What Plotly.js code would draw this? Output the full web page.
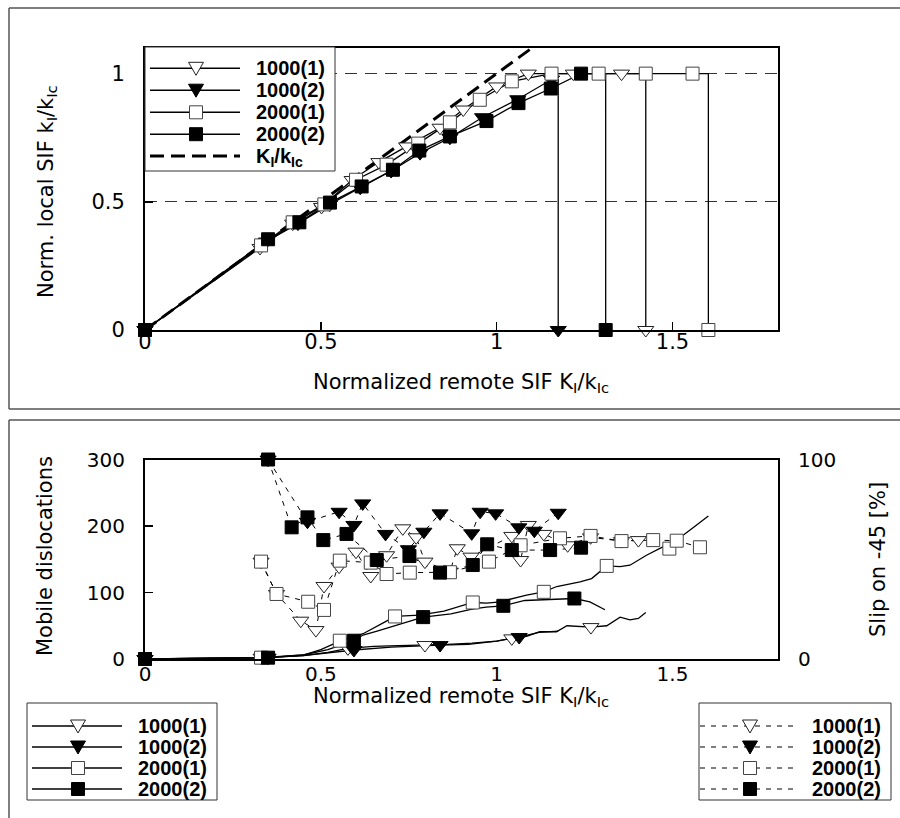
<!DOCTYPE html>
<html>
<head>
<meta charset="utf-8">
<script src="https://cdn.plot.ly/plotly-3.0.1.min.js"></script>
<style>html,body{margin:0;padding:0;background:#fff;}</style>
</head>
<body>
<div id="chart" style="width:900px;height:818px;"></div>
<script>
// ---------------- DATA ----------------
const seriesNames = ['1000(1)', '1000(2)', '2000(1)', '2000(2)'];
const kLabel = 'K<sub>I</sub>/k<sub>Ic</sub>';

// Top panel: normalized local SIF vs normalized remote SIF (last point = drop to zero)
const top1000_1_x = [0, 0.327, 0.42, 0.502, 0.589, 0.665, 0.744, 0.839, 0.905, 1.0, 1.09, 1.218, 1.355, 1.424];
const top1000_1_y = [0, 0.32, 0.415, 0.48, 0.585, 0.655, 0.716, 0.789, 0.86, 0.95, 1.0, 1.0, 1.0, 0];
const top1000_2_x = [0, 0.345, 0.435, 0.525, 0.612, 0.70, 0.782, 0.867, 0.96, 1.06, 1.156, 1.175];
const top1000_2_y = [0, 0.345, 0.415, 0.49, 0.555, 0.62, 0.69, 0.75, 0.83, 0.90, 0.977, 0];
const top2000_1_x = [0, 0.33, 0.42, 0.51, 0.60, 0.687, 0.777, 0.867, 0.952, 1.043, 1.156, 1.29, 1.424, 1.557, 1.602];
const top2000_1_y = [0, 0.33, 0.42, 0.49, 0.586, 0.645, 0.727, 0.81, 0.898, 0.97, 1.0, 1.0, 1.0, 1.0, 0];
const top2000_2_x = [0, 0.35, 0.439, 0.526, 0.616, 0.705, 0.78, 0.867, 0.971, 1.062, 1.154, 1.24, 1.31];
const top2000_2_y = [0, 0.354, 0.42, 0.497, 0.56, 0.625, 0.70, 0.755, 0.815, 0.885, 0.942, 1.0, 0];
const kRef_x = [0, 1.2];
const kRef_y = [0, 1.2];

// Bottom panel: mobile dislocations (solid, left axis) - curve points and marker points
const dis1000_1_x = [0, 0.33, 0.45, 0.52, 0.577, 0.65, 0.72, 0.796, 0.86, 0.93, 1.0, 1.043, 1.085, 1.123, 1.17, 1.2, 1.268, 1.313, 1.351, 1.379, 1.403, 1.424];
const dis1000_1_y = [0, 2, 5, 10, 16, 19, 20, 21, 22, 24, 27, 31, 34, 41, 41, 50, 48, 50, 63, 59, 61, 70];
const dis1000_1_mx = [0, 0.33, 0.577, 0.796, 1.043, 1.268];
const dis1000_1_my = [0, 2, 16, 21, 31, 48];
const dis1000_2_x = [0, 0.35, 0.45, 0.52, 0.594, 0.7, 0.78, 0.839, 0.92, 1.0, 1.064, 1.12, 1.175];
const dis1000_2_y = [0, 2, 5, 9, 13.5, 18, 20, 21, 22, 27, 33, 40, 42];
const dis1000_2_mx = [0, 0.35, 0.594, 0.839, 1.064];
const dis1000_2_my = [0, 2, 13.5, 21, 33];
const dis2000_1_x = [0, 0.33, 0.45, 0.5, 0.554, 0.62, 0.68, 0.711, 0.78, 0.85, 0.932, 0.972, 1.009, 1.085, 1.134, 1.171, 1.237, 1.27, 1.313, 1.351, 1.379, 1.426, 1.474, 1.512, 1.55, 1.602];
const dis2000_1_y = [0, 2, 6, 14, 27, 38, 55, 64, 66, 72, 85, 84, 86, 96, 101, 109, 116, 121, 140, 139, 141, 156, 169, 179, 194, 215];
const dis2000_1_mx = [0, 0.33, 0.554, 0.711, 0.932, 1.134, 1.313, 1.491];
const dis2000_1_my = [0, 2, 27.5, 64, 85, 101, 140, 166];
const dis2000_2_x = [0, 0.35, 0.45, 0.52, 0.594, 0.62, 0.66, 0.72, 0.791, 0.87, 0.93, 0.97, 1.019, 1.08, 1.15, 1.221, 1.265, 1.308];
const dis2000_2_y = [0, 2, 6, 14, 27.5, 36, 42, 52, 63, 68, 75, 78, 80, 88, 90, 91, 86, 74];
const dis2000_2_mx = [0, 0.35, 0.594, 0.791, 1.019, 1.221];
const dis2000_2_my = [0, 2, 27.5, 63, 80, 91];

// Bottom panel: slip on -45 [%] (dashed, right axis)
const slip1000_1_x = [0.33, 0.374, 0.443, 0.486, 0.509, 0.552, 0.6, 0.642, 0.687, 0.733, 0.771, 0.796, 0.867, 0.888, 0.927, 1.043, 1.068, 1.09, 1.134, 1.202, 1.267, 1.355, 1.403];
const slip1000_1_y = [48.8, 32.6, 19.2, 14.5, 36.6, 46.3, 53.8, 41.6, 52, 65.5, 61, 48.8, 43.8, 55.5, 51.3, 61.7, 49.6, 67.2, 62.7, 57, 61, 59.1, 59.6];
const slip1000_2_x = [0.35, 0.462, 0.552, 0.594, 0.619, 0.684, 0.749, 0.793, 0.839, 0.929, 0.953, 0.997, 1.063, 1.107, 1.175];
const slip1000_2_y = [100, 68.8, 73.8, 67.2, 78, 62.7, 55, 63.8, 73, 63, 73.8, 73, 66, 64.3, 73.3];
const slip2000_1_x = [0.33, 0.374, 0.464, 0.509, 0.554, 0.642, 0.687, 0.753, 0.867, 0.978, 1.068, 1.18, 1.267, 1.355, 1.445, 1.512, 1.578];
const slip2000_1_y = [48.8, 32.6, 28.7, 24.6, 49.3, 48.3, 42.6, 43.3, 43.5, 48.8, 57, 60.5, 61.7, 59.1, 59.6, 59.3, 56];
const slip2000_2_x = [0.35, 0.417, 0.462, 0.507, 0.573, 0.659, 0.752, 0.839, 0.932, 0.973, 1.043, 1.152, 1.24];
const slip2000_2_y = [100, 66, 71, 59.6, 62.7, 49.6, 51.6, 43.3, 47.1, 57.5, 54.6, 54.6, 55.8];

const xTickVals = [0, 0.5, 1, 1.5];
const xTickText = ['0', '0.5', '1', '1.5'];

// ---------------- STYLES ----------------
const REG = 'DejaVu Sans, Arial, sans-serif';
const BOLD = 'Liberation Sans, Arial, sans-serif';
const mk = {
  '1000(1)': {symbol: 'triangle-down', size: 14, color: '#fff', line: {color: '#222', width: 1}},
  '1000(2)': {symbol: 'triangle-down', size: 14, color: '#000', line: {color: '#000', width: 1}},
  '2000(1)': {symbol: 'square', size: 13, color: '#fff', line: {color: '#444', width: 1}},
  '2000(2)': {symbol: 'square', size: 13, color: '#000', line: {color: '#000', width: 1}}
};

function withDrop(xs, ys) {
  const n = xs.length;
  return [xs.slice(0, n - 1).concat([xs[n - 1], xs[n - 1]]),
          ys.slice(0, n - 1).concat([ys[n - 2], ys[n - 1]])];
}

const traces = [];
const topSets = [[top1000_1_x, top1000_1_y], [top1000_2_x, top1000_2_y], [top2000_1_x, top2000_1_y], [top2000_2_x, top2000_2_y]];
topSets.forEach((s, i) => {
  const [lx, ly] = withDrop(s[0], s[1]);
  traces.push({type: 'scatter', mode: 'lines', x: lx, y: ly, xaxis: 'x', yaxis: 'y',
    line: {color: '#000', width: 1.3}, cliponaxis: false, name: seriesNames[i]});
});
traces.push({type: 'scatter', mode: 'lines', x: kRef_x, y: kRef_y, xaxis: 'x', yaxis: 'y',
  line: {color: '#000', width: 3, dash: '14px,7px'}, cliponaxis: true, name: 'K'});
topSets.forEach((s, i) => {
  traces.push({type: 'scatter', mode: 'markers', x: s[0], y: s[1], xaxis: 'x', yaxis: 'y',
    marker: mk[seriesNames[i]], cliponaxis: false, name: seriesNames[i]});
});

const disSets = [[dis1000_1_x, dis1000_1_y, dis1000_1_mx, dis1000_1_my], [dis1000_2_x, dis1000_2_y, dis1000_2_mx, dis1000_2_my],
                 [dis2000_1_x, dis2000_1_y, dis2000_1_mx, dis2000_1_my], [dis2000_2_x, dis2000_2_y, dis2000_2_mx, dis2000_2_my]];
const slipSets = [[slip1000_1_x, slip1000_1_y], [slip1000_2_x, slip1000_2_y], [slip2000_1_x, slip2000_1_y], [slip2000_2_x, slip2000_2_y]];
slipSets.forEach((s, i) => {
  traces.push({type: 'scatter', mode: 'lines', x: s[0], y: s[1], xaxis: 'x2', yaxis: 'y3',
    line: {color: '#000', width: 1, dash: '5px,6px'}, cliponaxis: false, name: seriesNames[i]});
});
disSets.forEach((s, i) => {
  traces.push({type: 'scatter', mode: 'lines', x: s[0], y: s[1], xaxis: 'x2', yaxis: 'y2',
    line: {color: '#000', width: 1.3}, cliponaxis: false, name: seriesNames[i]});
});
slipSets.forEach((s, i) => {
  traces.push({type: 'scatter', mode: 'markers', x: s[0], y: s[1], xaxis: 'x2', yaxis: 'y3',
    marker: mk[seriesNames[i]], cliponaxis: false, name: seriesNames[i]});
});
disSets.forEach((s, i) => {
  traces.push({type: 'scatter', mode: 'markers', x: s[2], y: s[3], xaxis: 'x2', yaxis: 'y2',
    marker: mk[seriesNames[i]], cliponaxis: false, name: seriesNames[i]});
});

// ---------------- LAYOUT HELPERS (pixel -> paper) ----------------
const W = 900, H = 818;
const px = v => v / W;
const py = v => 1 - v / H;
const shapes = [];
const annotations = [];

function rectShape(x0, y0, x1, y1, fill, lc, lw) {
  shapes.push({type: 'rect', xref: 'paper', yref: 'paper', x0: px(x0), x1: px(x1), y0: py(y1), y1: py(y0),
    fillcolor: fill, line: {color: lc, width: lw}, layer: 'above'});
}
function lineShape(x0, y0, x1, y1, lc, lw, dash, layer) {
  shapes.push({type: 'line', xref: 'paper', yref: 'paper', x0: px(x0), x1: px(x1), y0: py(y0), y1: py(y1),
    line: {color: lc, width: lw, dash: dash || 'solid'}, layer: layer || 'above'});
}
function markerShape(name, cx, cy) {
  const m = mk[name];
  if (m.symbol === 'square') {
    rectShape(cx - 6.5, cy - 6.5, cx + 6.5, cy + 6.5, m.color, m.line.color, 1);
  } else {
    const p = 'M' + px(cx - 7.5) + ',' + py(cy - 6) + ' L' + px(cx + 7.5) + ',' + py(cy - 6) + ' L' + px(cx) + ',' + py(cy + 7) + ' Z';
    shapes.push({type: 'path', xref: 'paper', yref: 'paper', path: p, fillcolor: m.color,
      line: {color: m.line.color, width: 1}, layer: 'above'});
  }
}
function textAnn(text, x, y, opts) {
  annotations.push(Object.assign({text: text, xref: 'paper', yref: 'paper', x: px(x), y: py(y),
    showarrow: false, xanchor: 'left', yanchor: 'middle', borderpad: 0,
    font: {family: BOLD, size: 20, color: '#000'}}, opts || {}));
}

// outer frames (open on the right / bottom, as in the reference)
lineShape(9, 8, 900, 8, '#555', 1.5, 'solid', 'below');
lineShape(9, 8, 9, 409, '#555', 1.5, 'solid', 'below');
lineShape(9, 409, 900, 409, '#555', 1.5, 'solid', 'below');
lineShape(9, 420, 900, 420, '#555', 1.5, 'solid', 'below');
lineShape(9, 420, 9, 818, '#555', 1.5, 'solid', 'below');

// top legend
rectShape(145, 47, 335, 171, '#fff', '#333', 1);
const topRows = [68.3, 90.2, 112.3, 134.2, 156];
seriesNames.forEach((n, i) => {
  lineShape(150, topRows[i], 240, topRows[i], '#000', 1.5);
  markerShape(n, 196, topRows[i]);
  textAnn('<b>' + n + '</b>', 255, topRows[i]);
});
lineShape(150, topRows[4], 240, topRows[4], '#000', 3, '14px,7px');
textAnn('<b>' + kLabel + '</b>', 255, topRows[4] + 1.5);

// bottom legends
const botRows = [726, 747, 768, 789];
rectShape(27, 703, 217, 800, '#fff', '#333', 1);
rectShape(699, 703, 891, 800, '#fff', '#333', 1);
seriesNames.forEach((n, i) => {
  lineShape(32, botRows[i], 122, botRows[i], '#000', 1.5);
  markerShape(n, 78, botRows[i]);
  textAnn('<b>' + n + '</b>', 137, botRows[i]);
  lineShape(700, botRows[i], 793, botRows[i], '#000', 1, '5px,6px');
  markerShape(n, 750, botRows[i]);
  textAnn('<b>' + n + '</b>', 811, botRows[i]);
});

// axis titles
const titleFont = {family: REG, size: 21, color: '#000'};
textAnn('Normalized remote SIF K<sub>I</sub>/k<sub>Ic</sub>', 461, 383, {xanchor: 'center', font: titleFont});
textAnn('Norm. local SIF k<sub>I</sub>/k<sub>Ic</sub>', 47, 192, {xanchor: 'center', textangle: -90, font: titleFont});
textAnn('Mobile dislocations', 45, 556, {xanchor: 'center', textangle: -90, font: titleFont});
textAnn('Slip on -45 [%]', 878, 560, {xanchor: 'center', textangle: -90, font: titleFont});
textAnn('Normalized remote SIF K<sub>I</sub>/k<sub>Ic</sub>', 461, 697, {xanchor: 'center', font: titleFont});

const tickFont = {family: REG, size: 21, color: '#000'};
const axBase = {showline: true, linecolor: '#000', linewidth: 2, zeroline: false, showgrid: false,
  tickfont: tickFont, tickcolor: '#000', tickwidth: 1.5, ticklen: 8, fixedrange: true};

const layout = {
  width: W, height: H,
  margin: {l: 0, r: 0, t: 0, b: 0},
  paper_bgcolor: '#fff', plot_bgcolor: 'rgba(0,0,0,0)',
  showlegend: false,
  xaxis: Object.assign({}, axBase, {domain: [px(145), px(778)], range: [0, 1.8], anchor: 'y',
    tickmode: 'array', tickvals: xTickVals, ticktext: xTickText, ticks: 'inside', mirror: true, ticklabelstandoff: -8}),
  yaxis: Object.assign({}, axBase, {domain: [py(330), py(48)], range: [0, 1.1], anchor: 'x',
    tickmode: 'linear', tick0: 0, dtick: 0.5, ticks: 'inside', mirror: true,
    showgrid: true, gridcolor: '#333', gridwidth: 1, griddash: '12px,8px', ticklabelstandoff: 14}),
  xaxis2: Object.assign({}, axBase, {domain: [px(145), px(778)], range: [0, 1.8], anchor: 'y2',
    tickfont: {family: REG, size: 20, color: '#000'},
    tickmode: 'array', tickvals: xTickVals, ticktext: xTickText, ticks: '', mirror: true, ticklabelstandoff: -4}),
  yaxis2: Object.assign({}, axBase, {domain: [py(659), py(459.5)], range: [0, 300], anchor: 'x2',
    tickfont: {family: REG, size: 20, color: '#000'},
    tickmode: 'linear', tick0: 0, dtick: 100, ticks: 'inside', mirror: true, ticklabelstandoff: 14}),
  yaxis3: Object.assign({}, axBase, {overlaying: 'y2', side: 'right', range: [0, 100], anchor: 'x2',
    tickfont: {family: REG, size: 20, color: '#000'},
    tickmode: 'linear', tick0: 0, dtick: 100, ticks: '', ticklabelstandoff: 14}),
  shapes: shapes,
  annotations: annotations
};

Plotly.newPlot('chart', traces, layout, {displayModeBar: false, staticPlot: true});
</script>
</body>
</html>
